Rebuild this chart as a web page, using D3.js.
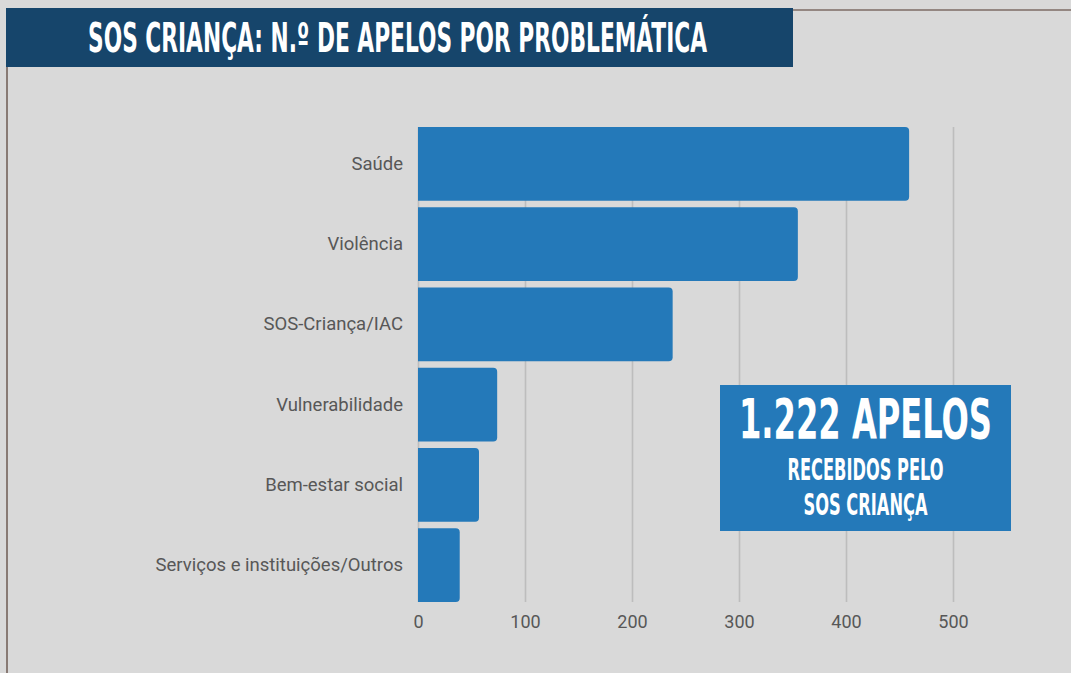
<!DOCTYPE html>
<html>
<head>
<meta charset="utf-8">
<script src="https://cdn.jsdelivr.net/npm/d3@7"></script>
<style>
  html, body { margin: 0; padding: 0; background: #d9d9d9; }
  svg { display: block; }
</style>
</head>
<body>
<div id="chart"></div>
<script>
// Dados
const categories = [
  "Saúde",
  "Violência",
  "SOS-Criança/IAC",
  "Vulnerabilidade",
  "Bem-estar social",
  "Serviços e instituições/Outros",
];
const apelos = [459, 355, 238, 74, 57, 39];
const xTicks = [0, 100, 200, 300, 400, 500];
const titleText = "SOS CRIANÇA: N.º DE APELOS POR PROBLEMÁTICA";
const calloutLines = ["1.222 APELOS", "RECEBIDOS PELO", "SOS CRIANÇA"];

const width = 1071;
const height = 673;
const margin = { top: 127, right: 118, bottom: 71, left: 418 };

const blue = "#2479b9";
const navy = "#16456b";
const textGray = "#575757";
const condensed = "'Liberation Sans Narrow', 'DejaVu Sans Condensed', 'Arial Narrow', sans-serif";

const data = categories.map((c, i) => ({ name: c, value: apelos[i] }));

const svg = d3
  .select("div#chart")
  .append("svg")
  .attr("width", width)
  .attr("height", height);

svg.append("rect").attr("width", width).attr("height", height).attr("fill", "#d9d9d9");

// Escalas
const x = d3
  .scaleLinear()
  .domain([0, 500])
  .range([margin.left, width - margin.right]);
const y = d3
  .scaleBand()
  .domain(categories)
  .range([margin.top, height - margin.bottom])
  .paddingInner(0.08)
  .paddingOuter(0);

// Grelha vertical
const gridGroup = svg
  .append("g")
  .attr("transform", `translate(0, ${height - margin.bottom})`)
  .call(
    d3.axisBottom(x)
      .tickValues(xTicks)
      .tickSize(-(height - margin.top - margin.bottom))
      .tickPadding(13)
  );
gridGroup.select(".domain").remove();
gridGroup.selectAll(".tick line").attr("stroke", "#bdbdbd").attr("stroke-width", 1.6);
gridGroup
  .selectAll(".tick text")
  .attr("fill", textGray)
  .style("font-family", "Roboto, sans-serif")
  .style("font-size", "18px");

// Barras com cantos arredondados à direita
const r = 4;
const barPath = (d) => {
  const x0 = x(0), x1 = x(d.value), y0 = y(d.name), y1 = y0 + y.bandwidth();
  return `M${x0},${y0}H${x1 - r}Q${x1},${y0} ${x1},${y0 + r}V${y1 - r}Q${x1},${y1} ${x1 - r},${y1}H${x0}Z`;
};
svg
  .append("g")
  .selectAll("path")
  .data(data)
  .join("path")
  .attr("d", barPath)
  .attr("fill", blue);

// Rótulos das categorias
const yAxisGroup = svg
  .append("g")
  .attr("transform", `translate(${margin.left}, 0)`)
  .call(d3.axisLeft(y).tickSize(0).tickPadding(15));
yAxisGroup.select(".domain").remove();
yAxisGroup
  .selectAll(".tick text")
  .attr("fill", textGray)
  .style("font-family", "Roboto, sans-serif")
  .style("font-size", "18.5px");

// Molduras
svg.append("line")
  .attr("x1", 7).attr("x2", 7).attr("y1", 60).attr("y2", height)
  .attr("stroke", "#887a74").attr("stroke-width", 2);
svg.append("line")
  .attr("x1", 790).attr("x2", width).attr("y1", 10).attr("y2", 10)
  .attr("stroke", "#948782").attr("stroke-width", 2);

// Título
svg.append("rect")
  .attr("x", 6).attr("y", 8).attr("width", 787).attr("height", 59)
  .attr("fill", navy);
svg.append("text")
  .attr("x", 88).attr("y", 52)
  .attr("textLength", 619)
  .attr("lengthAdjust", "spacingAndGlyphs")
  .attr("fill", "#fff")
  .style("font-family", condensed)
  .style("font-weight", "bold")
  .style("font-size", "41px")
  .text(titleText);

// Caixa de destaque
const box = { x: 720, y: 385, w: 291, h: 146 };
svg.append("rect")
  .attr("x", box.x).attr("y", box.y).attr("width", box.w).attr("height", box.h)
  .attr("fill", blue);
const cx = box.x + box.w / 2;
const calloutStyle = [
  { y: 438, size: 56, len: 253 },
  { y: 480, size: 30, len: 156 },
  { y: 515, size: 30, len: 124 },
];
svg
  .append("g")
  .selectAll("text")
  .data(calloutLines)
  .join("text")
  .attr("x", cx)
  .attr("y", (d, i) => calloutStyle[i].y)
  .attr("text-anchor", "middle")
  .attr("textLength", (d, i) => calloutStyle[i].len)
  .attr("lengthAdjust", "spacingAndGlyphs")
  .attr("fill", "#fff")
  .style("font-family", condensed)
  .style("font-weight", "bold")
  .style("font-size", (d, i) => calloutStyle[i].size + "px")
  .text((d) => d);
</script>
</body>
</html>
